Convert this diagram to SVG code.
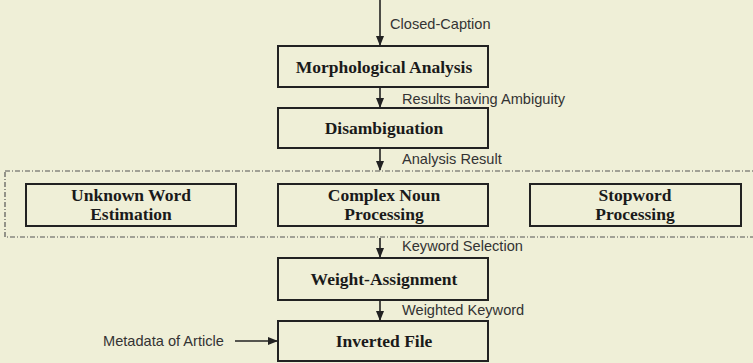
<svg xmlns="http://www.w3.org/2000/svg" width="753" height="363" viewBox="0 0 753 363">
  <style>
    .box { fill: none; stroke: #222; stroke-width: 2; }
    .title { font-family: "Liberation Serif", "Times New Roman", serif; font-weight: bold; font-size: 17.5px; fill: #1a1a1a; text-anchor: middle; }
    .lbl { font-family: "Liberation Sans", Arial, sans-serif; font-size: 14.6px; fill: #333; }
    .edge { stroke: #222; stroke-width: 1.6; fill: none; marker-end: url(#arrow); }
    .group { fill: none; stroke: #555; stroke-width: 1.2; stroke-dasharray: 5 2 1 2; }
  </style>
  <defs>
    <marker id="arrow" markerWidth="10" markerHeight="8" refX="9" refY="4" orient="auto" markerUnits="userSpaceOnUse">
      <path d="M0,0 L10,4 L0,8 Z" fill="#222"/>
    </marker>
  </defs>
  <rect width="753" height="363" fill="#EFEFD7"/>

  <rect class="group" x="5" y="171" width="752" height="66"/>

  <g id="connectors">
    <line class="edge" x1="380" y1="0" x2="380" y2="45"/>
    <line class="edge" x1="380" y1="88" x2="380" y2="107"/>
    <line class="edge" x1="380" y1="149" x2="380" y2="170"/>
    <line class="edge" x1="380" y1="238" x2="380" y2="257"/>
    <line class="edge" x1="380" y1="301" x2="380" y2="320"/>
    <line class="edge" x1="235" y1="341" x2="277" y2="341"/>
    <text class="lbl" x="390" y="29">Closed-Caption</text>
    <text class="lbl" x="402" y="104">Results having Ambiguity</text>
    <text class="lbl" x="402" y="164">Analysis Result</text>
    <text class="lbl" x="402" y="251">Keyword Selection</text>
    <text class="lbl" x="402" y="315">Weighted Keyword</text>
    <text class="lbl" x="103" y="346">Metadata of Article</text>
  </g>

  <g id="morph">
    <rect class="box" x="278" y="46" width="210" height="41"/>
    <text class="title" x="384" y="73">Morphological Analysis</text>
  </g>
  <g id="disamb">
    <rect class="box" x="278" y="108" width="210" height="40"/>
    <text class="title" x="384" y="134">Disambiguation</text>
  </g>
  <g id="unknown">
    <rect class="box" x="26" y="184" width="210" height="42"/>
    <text class="title" x="131" y="201">Unknown Word</text>
    <text class="title" x="131" y="220">Estimation</text>
  </g>
  <g id="complex">
    <rect class="box" x="278" y="184" width="210" height="42"/>
    <text class="title" x="384" y="201">Complex Noun</text>
    <text class="title" x="384" y="220">Processing</text>
  </g>
  <g id="stopword">
    <rect class="box" x="530" y="184" width="211" height="42"/>
    <text class="title" x="635" y="201">Stopword</text>
    <text class="title" x="635" y="220">Processing</text>
  </g>
  <g id="weight">
    <rect class="box" x="278" y="258" width="210" height="42"/>
    <text class="title" x="384" y="285">Weight-Assignment</text>
  </g>
  <g id="inverted">
    <rect class="box" x="278" y="321" width="210" height="40"/>
    <text class="title" x="384" y="347">Inverted File</text>
  </g>
</svg>
